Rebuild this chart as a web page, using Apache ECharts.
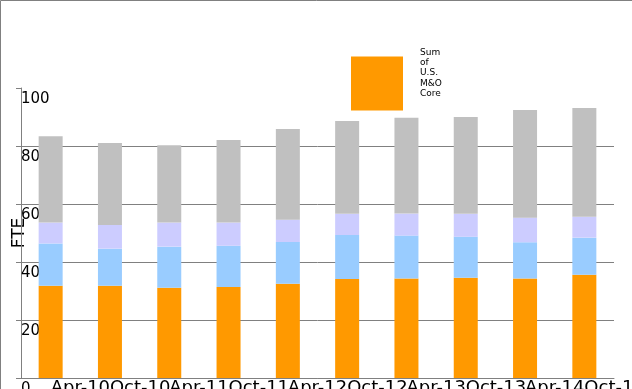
<!DOCTYPE html>
<html><head><meta charset="utf-8">
<script src="https://cdn.jsdelivr.net/npm/echarts@6/dist/echarts.min.js"></script>
<style>html,body{margin:0;padding:0;background:#fff}#c{width:632px;height:389px}</style>
</head><body><div id="c"></div>
<script>
const categories = ['Apr-10','Oct-10','Apr-11','Oct-11','Apr-12','Oct-12','Apr-13','Oct-13','Apr-14','Oct-14'];
const seriesNames = ['Sum of U.S. M&O Core','Sum of U.S. M&O Other','Sum of Non-U.S. M&O','Sum of Other'];
const coreValues     = [31.8, 31.8, 31.1, 31.4, 32.5, 34.1, 34.3, 34.6, 34.3, 35.6];
const otherUSValues  = [14.6, 12.8, 14.2, 14.2, 14.4, 15.2, 14.8, 14.1, 12.5, 12.8];
const nonUSValues    = [7.2, 8.2, 8.3, 8.0, 7.7, 7.3, 7.6, 7.9, 8.5, 7.2];
const remainValues   = [29.8, 28.2, 26.7, 28.5, 31.3, 32.0, 33.0, 33.4, 37.1, 37.5];
const yTicks = [0, 20, 40, 60, 80, 100];
const colors = ['#FF9900', '#99CCFF', '#CCCCFF', '#C0C0C0'];
const allValues = [coreValues, otherUSValues, nonUSValues, remainValues];

const chart = echarts.init(document.getElementById('c'), null, {renderer: 'canvas'});
chart.setOption({
  animation: false,
  backgroundColor: '#fff',
  textStyle: {fontFamily: 'DejaVu Sans'},
  graphic: [{type: 'rect', shape: {x: 0.5, y: 0.5, width: 800, height: 600}, style: {fill: 'none', stroke: '#808080', lineWidth: 1}, silent: true}],
  legend: {
    data: [seriesNames[0]],
    left: 351, top: 47, padding: 0,
    itemWidth: 52, itemHeight: 54,
    icon: 'rect',
    formatter: n => n.split(' ').join('\n') + '\n \n ',
    textStyle: {fontSize: 9, lineHeight: 10.4, color: '#000', padding: [0, 0, 0, 12]}
  },
  grid: {left: 21, right: 18, top: 88, bottom: 11, containLabel: false, outerBoundsMode: 'none'},
  xAxis: {
    type: 'category', data: categories,
    axisLine: {lineStyle: {color: '#808080'}},
    axisTick: {alignWithLabel: true, length: 5, lineStyle: {color: '#808080'}},
    axisLabel: {align: 'left', margin: 1, fontSize: 18, color: '#000', interval: 0, hideOverlap: false}
  },
  yAxis: {
    type: 'value', min: yTicks[0], max: yTicks[yTicks.length - 1], interval: 20,
    name: 'FTE', nameLocation: 'middle', nameGap: -7, nameRotate: 90, nameMoveOverlap: false,
    nameTextStyle: {fontSize: 17, color: '#000'},
    axisLine: {show: true, lineStyle: {color: '#808080'}},
    axisTick: {show: true, length: 5, lineStyle: {color: '#808080'}},
    splitLine: {show: true, showMaxLine: false, lineStyle: {color: '#808080'}},
    axisLabel: {inside: true, margin: 0, align: 'left', verticalAlign: 'top', padding: [4, 0, 0, 0], fontSize: 15, color: '#000', hideOverlap: false}
  },
  series: allValues.map((vals, i) => ({
    name: seriesNames[i], type: 'bar', stack: 'fte', data: vals,
    barWidth: 24, itemStyle: {color: colors[i]}
  }))
});
</script></body></html>
